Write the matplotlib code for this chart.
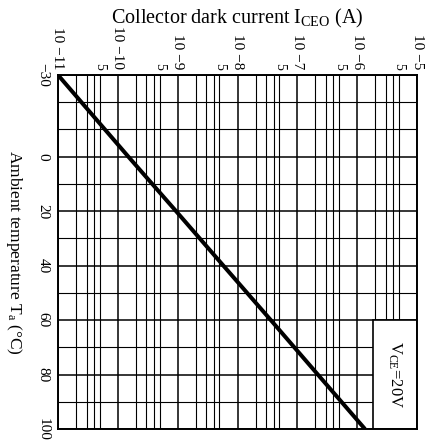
import matplotlib
matplotlib.use("Agg")
import matplotlib.pyplot as plt
from matplotlib.patches import Rectangle
from matplotlib.ticker import FixedLocator, FixedFormatter

plt.rcParams['font.family'] = ['Liberation Serif', 'DejaVu Serif']
plt.rcParams['mathtext.fontset'] = 'custom'
plt.rcParams['mathtext.rm'] = 'Liberation Serif'
plt.rcParams['mathtext.it'] = 'Liberation Serif:italic'
plt.rcParams['mathtext.bf'] = 'Liberation Serif:bold'

# ---- data ----
temperature = [-30, 0, 20, 40, 60, 80, 100]          # Ta (°C)
iceo = [1.0e-11, 1.5e-10, 9.4e-10, 5.8e-9, 3.6e-8, 2.2e-7, 1.35e-6]  # A

temp_ticks = [-30, 0, 20, 40, 60, 80, 100]
temp_tick_labels = ['\u221230', '0', '20', '40', '60', '80', '100']
temp_grid = list(range(-30, 101, 10))

decades = [1e-11, 1e-10, 1e-9, 1e-8, 1e-7, 1e-6, 1e-5]
decade_labels = ['10 \u221211', '10 \u221210', '10 \u22129', '10 \u22128',
                 '10 \u22127', '10 \u22126', '10 \u22125']
minor_mult = [2, 3, 4, 5]
condition_text = r'V$_{\rm CE}$=20V'

# ---- figure ----
fig = plt.figure(figsize=(4.25, 4.42), dpi=100)
ax = fig.add_axes([58/425, 1-429/442, (417-58)/425, (429-75)/442])

ax.set_xscale('log')
ax.set_xlim(decades[0], decades[-1])
ax.set_ylim(temp_grid[-1], temp_grid[0])

minor_pos = [d*m for d in decades[:-1] for m in minor_mult]
minor_lab = ['5' if m == 5 else '' for d in decades[:-1] for m in minor_mult]
ax.xaxis.set_major_locator(FixedLocator(decades))
ax.xaxis.set_major_formatter(FixedFormatter(decade_labels))
ax.xaxis.set_minor_locator(FixedLocator(minor_pos))
ax.xaxis.set_minor_formatter(FixedFormatter(minor_lab))
ax.xaxis.tick_top()
ax.tick_params(axis='x', which='major', length=0, pad=4, labelsize=11,
               labelrotation=270)
ax.tick_params(axis='x', which='minor', length=0, pad=4, labelsize=10,
               labelrotation=270)

ax.set_yticks(temp_ticks)
ax.set_yticklabels(temp_tick_labels)
ax.set_yticks(temp_grid, minor=True)
ax.tick_params(axis='y', which='both', length=0, pad=6, labelsize=11)
for t in ax.get_yticklabels():
    t.set_rotation(270)
    t.set_va('center')

ax.grid(True, which='major', axis='both', color='black', lw=1.1)
ax.grid(True, which='minor', axis='both', color='black', lw=0.8)
ax.set_axisbelow(True)

ax.plot(iceo, temperature, color='black', lw=2.9, solid_capstyle='butt', zorder=3)

box = Rectangle((0.877, 0.0), 0.123, (432-323)/354, transform=ax.transAxes,
                facecolor='white', edgecolor='black', lw=1.2, zorder=4)
ax.add_patch(box)
ax.text(0.938, 0.154, condition_text, transform=ax.transAxes, rotation=270,
        ha='center', va='center', fontsize=12, zorder=5)

for s in ax.spines.values():
    s.set_linewidth(1.4)
    s.set_zorder(6)

ax.xaxis.set_label_position('top')
ax.set_xlabel(r'Collector dark current I$_{\rm CEO}$ (A)', fontsize=14.5, labelpad=2)
ax.set_ylabel('Ambient temperature T$_{\\rm a}$ (\u00b0C)', fontsize=12.5,
              rotation=270, va='center')
ax.yaxis.set_label_coords(-44/359, 0.5)

fig.savefig('out.png', dpi=100)
